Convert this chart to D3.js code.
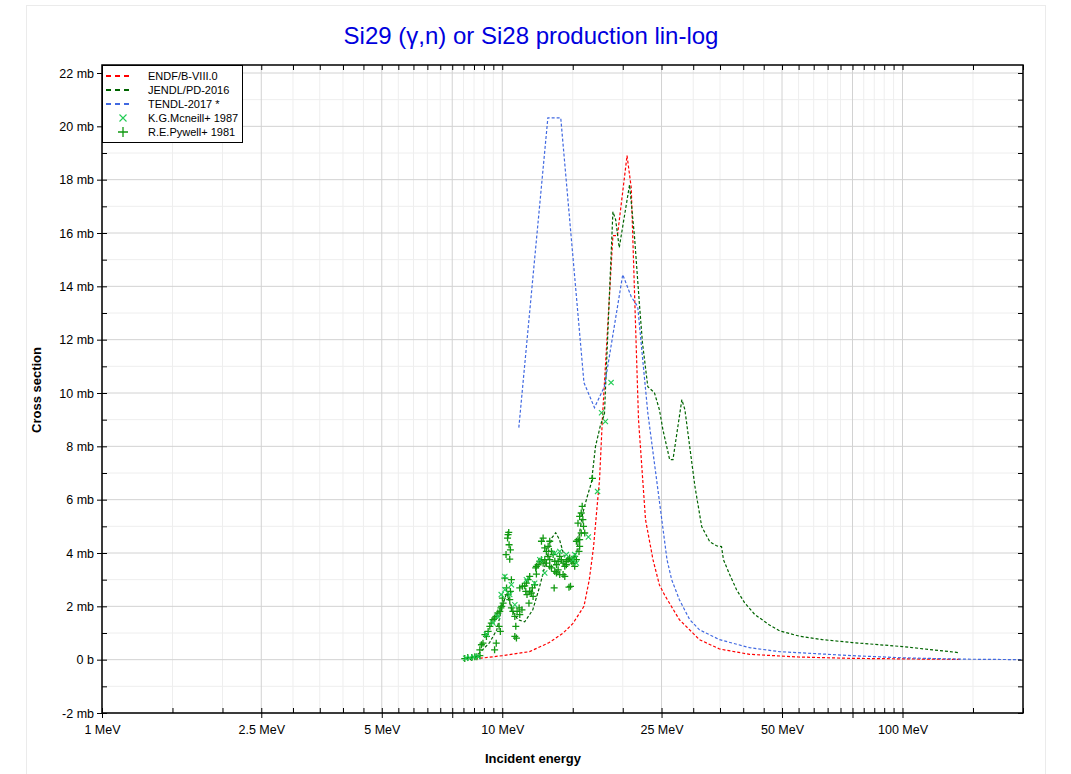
<!DOCTYPE html>
<html><head><meta charset="utf-8">
<script src="https://cdn.jsdelivr.net/npm/d3@7"></script>
<style>body{margin:0;background:#fff;} text{font-family:"Liberation Sans",Arial,sans-serif;}</style>
</head><body><svg id="c" width="1071" height="774"></svg>
<script>
// ---------- data ----------
const titleText = "Si29 (\u03b3,n) or Si28 production lin-log";
const xLabelText = "Incident energy";
const yLabelText = "Cross section";
const seriesNames = ["ENDF/B-VIII.0", "JENDL/PD-2016", "TENDL-2017 *", "K.G.Mcneill+ 1987", "R.E.Pywell+ 1981"];

const xMajorTicks = [1, 2.5, 5, 7.5, 10, 25, 50, 75, 100];
const xLabelTicks = [1, 2.5, 5, 10, 25, 50, 100];
const xLabelStrings = ["1 MeV", "2.5 MeV", "5 MeV", "10 MeV", "25 MeV", "50 MeV", "100 MeV"];
const xMinorTicks = [1.5,2,3,3.5,4,4.5,5.5,6,6.5,7,8,8.5,9,9.5,15,20,30,35,40,45,55,60,65,70,80,85,90,95,150,200];
const yMajorTicks = [-2,0,2,4,6,8,10,12,14,16,18,20,22];
const yLabelStrings = ["-2 mb","0 b","2 mb","4 mb","6 mb","8 mb","10 mb","12 mb","14 mb","16 mb","18 mb","20 mb","22 mb"];
const yMinorTicks = [-1,1,3,5,7,9,11,13,15,17,19,21];

const endfE = [8.3, 8.44, 10.0, 11.7, 13.1, 14.2, 15.0, 16.0, 16.5, 16.9, 17.2, 17.5, 17.8, 18.9, 19.4, 20.5, 21.0, 21.9, 22.8, 23.8, 24.7, 25.5, 27.7, 31.1, 34.9, 41.5, 55, 74, 100, 140];
const endfS = [0, 0.02, 0.15, 0.3, 0.64, 1.0, 1.35, 2.0, 3.0, 4.2, 5.5, 6.75, 9.1, 15.9, 15.9, 18.9, 17.7, 9.0, 5.25, 3.75, 2.8, 2.4, 1.5, 0.75, 0.4, 0.2, 0.1, 0.05, 0.03, 0.01];

const jendlE = [8.3, 8.54, 9.30, 9.69, 10.0, 10.26, 10.56, 10.94, 11.38, 11.92, 12.4, 12.9, 13.3, 13.6, 13.9, 14.3, 14.9, 15.35, 15.6, 15.9, 16.3, 16.7, 17.1, 17.6, 18.0, 18.9, 19.2, 19.6, 20.8, 21.4, 22.0, 22.4, 23.1, 24.0, 24.7, 25.2, 26.2, 26.7, 28.1, 28.6, 29.4, 30.3, 31.5, 33.0, 34.3, 35.3, 35.7, 37.0, 38.5, 40.3, 42.7, 46.5, 49.3, 55.3, 63.1, 75, 100, 139];
const jendlS = [0, 0.07, 0.64, 1.12, 1.99, 2.51, 1.87, 1.5, 1.42, 1.87, 2.74, 3.75, 4.57, 4.76, 4.5, 3.86, 3.75, 4.01, 4.76, 5.51, 6.11, 6.64, 8.0, 8.8, 9.2, 16.8, 16.5, 15.45, 17.81, 15.86, 13.39, 11.89, 10.24, 10.01, 9.37, 8.62, 7.5, 7.5, 9.75, 9.37, 7.99, 6.49, 4.99, 4.42, 4.27, 4.24, 3.75, 3.19, 2.62, 2.14, 1.7, 1.3, 1.08, 0.88, 0.75, 0.64, 0.49, 0.26];

const tendlE = [11.0, 13.0, 14.0, 16.0, 17.0, 18.0, 20.0, 21.0, 21.8, 22.4, 23.1, 24.3, 25.8, 26.5, 27.7, 29.4, 31.1, 34.9, 41.5, 49.3, 75, 100, 139, 200];
const tendlS = [8.7, 20.32, 20.32, 10.39, 9.45, 10.24, 14.44, 13.61, 13.24, 11.36, 9.26, 6.75, 3.75, 3.0, 2.25, 1.5, 1.12, 0.75, 0.45, 0.3, 0.15, 0.07, 0.02, 0.0];

const mcneillE = [8.1, 8.3, 8.5, 8.7, 9.13, 9.48, 9.75, 9.94, 10.15, 10.15, 10.44, 10.54, 10.75, 11.49, 12.05, 12.41, 12.77, 13.53, 13.92, 14.46, 15.03, 15.17, 15.32, 16.41, 17.3, 17.7, 18.1, 18.7];
const mcneillS = [0.05, 0.07, 0.1, 0.12, 0.94, 1.37, 1.62, 2.44, 3.12, 2.62, 2.44, 2.81, 2.06, 3.0, 2.87, 3.75, 3.25, 4.0, 4.06, 3.94, 3.75, 3.94, 3.62, 4.6, 6.31, 9.26, 8.93, 10.39];

const pywellE = [8.06, 8.20, 8.39, 8.54, 8.64, 8.79,
  8.79, 8.87, 8.95, 9.05, 9.13, 9.22, 9.31, 9.39, 9.48, 9.57, 9.66, 9.75, 9.86, 9.82, 9.89, 9.66, 9.57, 9.92, 9.97, 10.05, 10.01,
  10.15, 10.25, 10.34, 10.38, 10.31, 10.40, 10.48, 10.22, 10.44, 10.54, 10.48, 10.34, 10.44, 10.54, 10.63, 10.75, 10.81, 10.75, 10.85,
  10.89, 11.06, 11.02, 11.20, 11.06, 11.23, 11.38, 11.49, 11.60, 11.71, 11.45, 11.53, 11.71, 11.82, 11.94, 11.66, 11.89, 12.05, 12.17, 12.12, 12.29, 12.41, 12.53, 12.65, 12.17,
  12.65, 12.53, 12.77, 12.89, 13.02, 13.14, 12.77, 12.89, 13.02, 13.14, 13.27, 13.40, 13.53, 13.66, 13.79, 13.53, 13.66, 13.79, 13.92, 13.48, 13.27, 13.14,
  13.92, 14.05, 14.19, 14.33, 14.46, 14.60, 14.74, 14.89, 15.03, 15.17, 15.32, 15.32, 15.46, 15.61, 14.19, 14.33, 14.68, 14.81, 15.03, 15.17, 14.46,
  15.46, 15.61, 15.75, 15.84, 15.90, 15.96, 16.07, 15.75, 15.61, 15.55, 16.8];
const pywellS = [0.04, 0.08, 0.08, 0.11, 0.11, 0.15,
  0.37, 0.56, 0.62, 0.94, 0.87, 1.06, 1.25, 1.37, 1.5, 1.56, 1.62, 1.75, 1.81, 1.25, 1.06, 0.62, 0.37, 1.94, 2.0, 2.12, 2.31,
  3.06, 2.69, 4.69, 4.77, 4.56, 4.31, 4.12, 3.94, 3.77, 3.0, 2.56, 2.44, 2.25, 1.94, 1.81, 1.62, 1.25, 0.87, 0.81,
  1.81, 1.69, 1.94, 1.87, 2.69, 2.75, 2.77, 2.87, 3.0, 3.12, 2.56, 2.44, 2.56, 2.5, 2.37, 2.12, 2.69, 2.81, 3.21, 3.44, 3.56, 3.69, 3.75, 3.62, 3.5,
  4.56, 4.44, 4.19, 4.06, 3.87, 3.75, 3.75, 3.62, 4.25, 4.44, 4.06, 3.94, 3.69, 3.56, 3.69, 3.31, 3.25, 3.37, 3.19, 2.69, 3.44, 3.5,
  3.87, 3.75, 3.62, 3.5, 3.69, 3.75, 3.81, 3.69, 3.75, 3.87, 3.75, 4.44, 4.5, 4.5, 3.19, 3.12, 2.72, 2.75, 3.62, 3.5, 3.56,
  5.12, 5.37, 5.5, 5.75, 5.25, 5.0, 4.75, 4.75, 4.25, 4.06, 6.8];

// ---------- layout ----------
const svg = d3.select("#c");
const L = 102, R = 1023, T = 65, B = 713;
const x = d3.scaleLog().domain([1, 200]).range([L, R]);
const y = d3.scaleLinear().domain([-2, 22.3]).range([B, T]);

const colEndf = "#ff0000", colJendl = "#006400", colTendl = "#4169e1";
const colMc = "#22cc55", colPy = "#119911";

// outer frame
svg.append("rect").attr("x", 26.5).attr("y", 5.5).attr("width", 1019).attr("height", 780)
  .attr("fill", "none").attr("stroke", "#ebebeb").attr("stroke-width", 1);

// title
svg.append("text").attr("x", 531).attr("y", 44).attr("text-anchor", "middle")
  .attr("font-size", 24).attr("fill", "#0000dd").text(titleText);

// grid
const grid = svg.append("g");
xMinorTicks.forEach(v => grid.append("line").attr("x1", x(v)).attr("x2", x(v)).attr("y1", T).attr("y2", B).attr("stroke", "#eeeeee"));
yMinorTicks.forEach(v => grid.append("line").attr("y1", y(v)).attr("y2", y(v)).attr("x1", L).attr("x2", R).attr("stroke", "#eeeeee"));
xMajorTicks.forEach(v => grid.append("line").attr("x1", x(v)).attr("x2", x(v)).attr("y1", T).attr("y2", B).attr("stroke", "#d2d2d2"));
yMajorTicks.forEach(v => grid.append("line").attr("y1", y(v)).attr("y2", y(v)).attr("x1", L).attr("x2", R).attr("stroke", "#d2d2d2"));

// clip
svg.append("clipPath").attr("id", "clip").append("rect").attr("x", L).attr("y", T).attr("width", R - L).attr("height", B - T);
const plot = svg.append("g").attr("clip-path", "url(#clip)");

const line = d3.line().x(d => x(d[0])).y(d => y(d[1]));
function drawSeries(E, S, col) {
  plot.append("path").datum(E.map((e, i) => [e, S[i]])).attr("d", line)
    .attr("fill", "none").attr("stroke", col).attr("stroke-width", 1.2).attr("stroke-dasharray", "3,2");
}
drawSeries(endfE, endfS, colEndf);
drawSeries(jendlE, jendlS, colJendl);
drawSeries(tendlE, tendlS, colTendl);

// markers
function plus(g, cx, cy, s, col) {
  g.append("path").attr("d", `M${cx - s},${cy}H${cx + s}M${cx},${cy - s}V${cy + s}`).attr("stroke", col).attr("stroke-width", 1.3).attr("fill", "none");
}
function cross(g, cx, cy, s, col) {
  g.append("path").attr("d", `M${cx - s},${cy - s}L${cx + s},${cy + s}M${cx - s},${cy + s}L${cx + s},${cy - s}`).attr("stroke", col).attr("stroke-width", 1.1).attr("fill", "none");
}
pywellE.forEach((e, i) => plus(plot, x(e), y(pywellS[i]), 3.5, colPy));
mcneillE.forEach((e, i) => cross(plot, x(e), y(mcneillS[i]), 2.6, colMc));

// axes
const ax = svg.append("g");
const allX = xMajorTicks.concat(xMinorTicks).filter(v => v <= 200);
const allY = yMajorTicks.concat(yMinorTicks);
const bAxis = d3.axisBottom(x).tickValues(xLabelTicks).tickFormat((d, i) => xLabelStrings[i]).tickSizeInner(5).tickSizeOuter(0).tickPadding(7);
ax.append("g").attr("transform", `translate(0,${B})`).call(bAxis);
ax.append("g").attr("transform", `translate(0,${B})`).call(d3.axisBottom(x).tickValues([7.5, 75]).tickFormat("").tickSizeInner(5).tickSizeOuter(0));
ax.append("g").attr("transform", `translate(0,${B})`).call(d3.axisTop(x).tickValues(allX).tickFormat("").tickSizeInner(5).tickSizeOuter(0));
ax.append("g").attr("transform", `translate(0,${T})`).call(d3.axisBottom(x).tickValues(allX).tickFormat("").tickSizeInner(5).tickSizeOuter(0));
const lAxis = d3.axisLeft(y).tickValues(yMajorTicks).tickFormat((d, i) => yLabelStrings[i]).tickSizeInner(5).tickSizeOuter(0).tickPadding(3);
ax.append("g").attr("transform", `translate(${L},0)`).call(lAxis);
ax.append("g").attr("transform", `translate(${L},0)`).call(d3.axisRight(y).tickValues(allY).tickFormat("").tickSizeInner(5).tickSizeOuter(0));
ax.append("g").attr("transform", `translate(${R},0)`).call(d3.axisLeft(y).tickValues(allY).tickFormat("").tickSizeInner(5).tickSizeOuter(0));
ax.selectAll(".domain").remove();
ax.selectAll("g").attr("font-size", null).attr("font-family", null);
ax.selectAll("line").attr("stroke", "#000");
ax.selectAll("text").attr("fill", "#000").attr("font-size", 12.5).style("font-family", '"Liberation Sans",Arial,sans-serif');
// frame
svg.append("rect").attr("x", L).attr("y", T).attr("width", R - L).attr("height", B - T)
  .attr("fill", "none").attr("stroke", "#000").attr("stroke-width", 1.5);

// axis titles
svg.append("text").attr("x", 533).attr("y", 763).attr("text-anchor", "middle").attr("font-size", 13).attr("font-weight", "bold").text(xLabelText);
svg.append("text").attr("transform", "translate(41,390) rotate(-90)").attr("text-anchor", "middle").attr("font-size", 13).attr("font-weight", "bold").text(yLabelText);

// legend
const lg = svg.append("g");
lg.append("rect").attr("x", L + 0.5).attr("y", T + 0.5).attr("width", 140).attr("height", 77).attr("fill", "#fff").attr("stroke", "#000").attr("stroke-width", 1);
const rowsY = [76, 90, 104, 118, 132];
[colEndf, colJendl, colTendl].forEach((c, i) => {
  lg.append("line").attr("x1", 106).attr("x2", 133).attr("y1", rowsY[i]).attr("y2", rowsY[i])
    .attr("stroke", c).attr("stroke-width", 2).attr("stroke-dasharray", "5,4");
});
cross(lg, 123, rowsY[3], 3.5, colMc);
plus(lg, 123, rowsY[4], 5, colPy);
seriesNames.forEach((n, i) => {
  lg.append("text").attr("x", 148).attr("y", rowsY[i] + 4).attr("font-size", 11).attr("fill", "#000").text(n);
});
</script></body></html>
